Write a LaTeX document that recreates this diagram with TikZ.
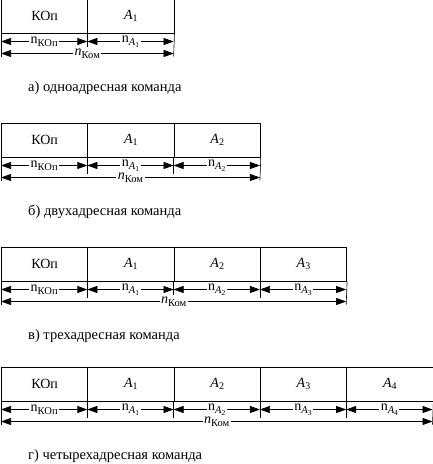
\documentclass[tikz,border=0pt]{standalone}
\usepackage{fontspec}
\setmainfont{Liberation Serif}
\usetikzlibrary{arrows.meta}
\newcommand\lsub[1]{\raisebox{-3.5pt}{\fontsize{10.5}{11}\selectfont #1}}
\newcommand\ssub[1]{\raisebox{-1.8pt}{\fontsize{7.5}{8}\selectfont #1}}
\tikzset{
  cell/.style={draw, line width=0.9pt, anchor=north west, minimum width=86.3pt, minimum height=33.5pt, inner sep=0pt, font=\rmfamily\fontsize{14}{15}\selectfont},
  ext/.style={line width=0.6pt},
  dim/.style={line width=0.6pt, {Triangle[length=10pt,width=7pt]}-{Triangle[length=10pt,width=7pt]}},
  lbl/.style={fill=white, inner sep=1.5pt, font=\rmfamily\fontsize{14}{14}\selectfont},
  captext/.style={anchor=west, inner sep=0pt, font=\rmfamily\fontsize{14.5}{16}\selectfont},
}
\begin{document}
\begin{tikzpicture}[x=1pt,y=-1pt]
\useasboundingbox (0,0) rectangle (433,464);
\foreach \k/\yt/\capt in {1/-1/{а) одноадресная команда}, 2/123/{б) двухадресная команда}, 3/247/{в) трехадресная команда}, 4/367/{г) четырехадресная команда}} {
  \pgfmathsetmacro\yb{\yt+33.5}
  \pgfmathsetmacro\ya{\yb+9}
  \pgfmathsetmacro\yc{\yb+21}
  \pgfmathsetmacro\xr{1+86.3*(\k+1)}
  % cells
  \foreach \i in {0,...,\k} {
    \node[cell] (c\k-\i) at ({1+86.3*\i},\yt) {\ifnum\i=0 КОп\else\textit{A}\ssub{\fontsize{10}{10}\selectfont\i}\fi};
  }
  % extension lines
  \coordinate (L\k) at (1,\yc);
  \coordinate (R\k) at (\xr,\yc);
  \draw[ext] (c\k-0.south west) -- ([yshift=-3pt]L\k);
  \draw[ext] (c\k-\k.south east) -- ([yshift=-3pt]R\k);
  \foreach \i in {1,...,\k} {
    \draw[ext] (c\k-\i.south west) -- ++(0,17);
  }
  % first row of dimension arrows
  \foreach \i in {0,...,\k} {
    \coordinate (p\k-\i) at ({1+86.3*\i},\ya);
    \coordinate (q\k-\i) at ({1+86.3*(\i+1)},\ya);
    \draw[dim] (p\k-\i) -- node[lbl] {\ifnum\i=0 n\lsub{КОп}\else n\lsub{\textit{A}\ssub{\i}}\fi} (q\k-\i);
  }
  % total length
  \draw[dim] (L\k) -- node[lbl] {\textit{n}\lsub{Ком}} (R\k);
  % caption
  \node[captext] (cap\k) at (28,\yt+89) {\capt};
}
\end{tikzpicture}
\end{document}
